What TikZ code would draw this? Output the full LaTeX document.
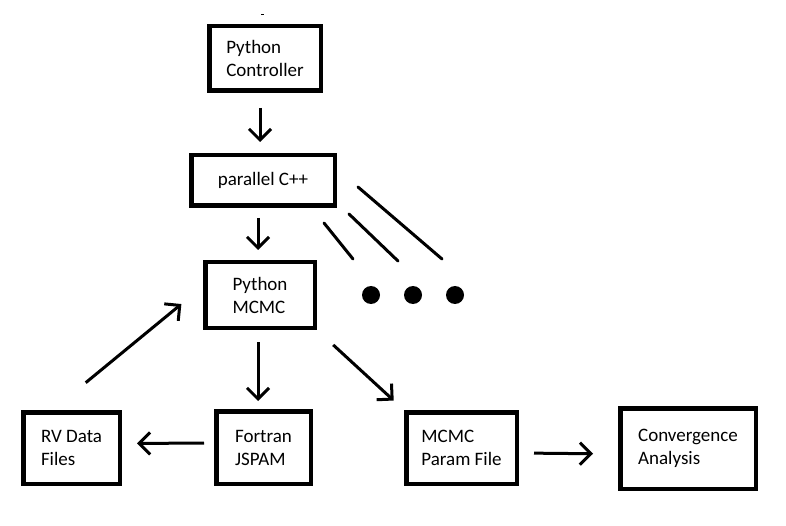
\documentclass[tikz,border=0pt]{standalone}
\usepackage{fontspec}
\setmainfont{Carlito}
\usetikzlibrary{arrows.meta}
\tikzset{
  blockbox/.style={draw=black, line width=4.5pt, align=left, inner sep=0pt, font=\fontsize{19}{23}\selectfont},
  arrow/.style={-{Straight Barb[length=11pt, width=22pt]}, line width=3pt, draw=black},
  hatch/.style={line width=3pt, line cap=round}
}

\begin{document}
\begin{tikzpicture}[x=1pt, y=-1pt]
\useasboundingbox (0,0) rectangle (786,526);
\node[blockbox, minimum width=111.5pt, minimum height=64.5pt] (ctrl) at (265,58.5) {Python\\Controller};
\node[blockbox, minimum width=143.5pt, minimum height=50.5pt] (par) at (263,180.5) {parallel C++};
\node[blockbox, minimum width=109.5pt, minimum height=65.5pt] (mcmc) at (260,295) {Python\\MCMC};
\node[blockbox, minimum width=96.5pt, minimum height=71.5pt] (rv) at (71.5,448) {RV Data\\Files};
\node[blockbox, minimum width=94.5pt, minimum height=72.5pt] (jspam) at (263.5,447.5) {Fortran\\JSPAM};
\node[blockbox, minimum width=110.5pt, minimum height=71.5pt] (param) at (461.5,448) {MCMC\\Param File};
\node[blockbox, minimum width=135.5pt, minimum height=80.5pt] (conv) at (688,448.5) {Convergence\\Analysis};
% connectors
\draw[arrow, shorten <=15pt, shorten >=11pt] ([xshift=-5pt]ctrl.south) -- ([xshift=-3pt]par.north);
\draw[arrow, shorten <=10pt, shorten >=10pt] ([xshift=-5pt]par.south) -- ([xshift=-2pt]mcmc.north);
\draw[arrow, shorten <=12pt, shorten >=8pt] ([xshift=-2pt]mcmc.south) -- ([xshift=-5.5pt]jspam.north);
\draw[arrow, shorten <=22pt, shorten >=14pt] (mcmc.south east) -- (param.north west);
\draw[arrow, shorten <=10pt, shorten >=15pt] ([yshift=4.5pt]jspam.west) -- ([yshift=4.5pt]rv.east);
\draw[arrow, shorten <=43pt, shorten >=28pt] ([xshift=-19pt]rv.north) -- ([yshift=8.75pt]mcmc.west);
\draw[arrow, shorten <=15pt, shorten >=25pt] ([yshift=-5pt]param.east) -- ([yshift=-5.5pt]conv.west);
% parallel copies
\draw[hatch] (358,187) -- (442,259);
\draw[hatch] (349,214) -- (398,261);
\draw[hatch] (324,223) -- (353,259);
\foreach \dx in {371,413,455}
  \fill (\dx,295) circle (9);
\draw[line width=1pt] (261,15) -- (264,15);
\end{tikzpicture}
\end{document}
